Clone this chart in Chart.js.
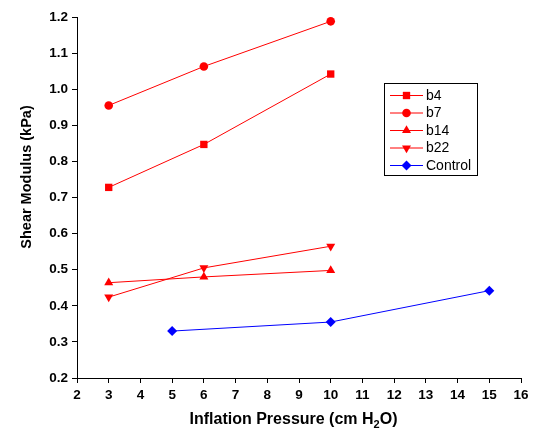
<!DOCTYPE html>
<html>
<head>
<meta charset="utf-8">
<script src="https://cdn.jsdelivr.net/npm/chart.js@4/dist/chart.umd.min.js"></script>
<style>
  html, body { margin: 0; padding: 0; background: #fff; }
  #wrap { width: 541px; height: 429px; }
</style>
</head>
<body>
<div id="wrap"><canvas id="chart" width="541" height="429"></canvas></div>
<script>
const b4x = [3, 6, 10];
const b4y = [0.728, 0.847, 1.042];
const b7x = [3, 6, 10];
const b7y = [0.955, 1.063, 1.188];
const b14x = [3, 6, 10];
const b14y = [0.464, 0.480, 0.498];
const b22x = [3, 6, 10];
const b22y = [0.424, 0.505, 0.565];
const controlX = [5, 10, 15];
const controlY = [0.330, 0.355, 0.442];

const pts = (xs, ys) => xs.map((x, i) => ({ x: x, y: ys[i] }));

const red = '#ff0000';
const blue = '#0000ff';
const font = 'Arial, "Liberation Sans", sans-serif';

const series = [
  { label: 'b4', data: pts(b4x, b4y), color: red, style: 'rect', radius: 5.2, rot: 0 },
  { label: 'b7', data: pts(b7x, b7y), color: red, style: 'circle', radius: 4.3, rot: 0 },
  { label: 'b14', data: pts(b14x, b14y), color: red, style: 'triangle', radius: 5.2, rot: 0 },
  { label: 'b22', data: pts(b22x, b22y), color: red, style: 'triangle', radius: 5.2, rot: 180 },
  { label: 'Control', data: pts(controlX, controlY), color: blue, style: 'rectRot', radius: 5, rot: 0 },
];

// legend box + axis titles (with a real subscript) drawn on the canvas
const extras = {
  id: 'extras',
  afterDraw(chart) {
    const ctx = chart.ctx;
    const left = 384, top = 83, w = 93, h = 92;
    ctx.save();
    ctx.strokeStyle = '#000';
    ctx.lineWidth = 1;
    ctx.strokeRect(left + 0.5, top + 0.5, w, h);
    ctx.font = '14px ' + font;
    ctx.textBaseline = 'middle';
    chart.data.datasets.forEach((ds, i) => {
      const y = top + 12 + i * 17.5;
      ctx.strokeStyle = ds.borderColor;
      ctx.beginPath();
      ctx.moveTo(390, y + 0.5);
      ctx.lineTo(423, y + 0.5);
      ctx.stroke();
      ctx.fillStyle = ds.pointBackgroundColor;
      Chart.helpers.drawPoint(ctx, {
        pointStyle: ds.pointStyle,
        radius: ds.pointRadius,
        rotation: ds.pointRotation,
        borderWidth: 0
      }, 406.5, y + 0.5);
      ctx.fillStyle = '#000';
      ctx.fillText(ds.label, 426, y + 1);
    });

    // y title
    ctx.fillStyle = '#000';
    ctx.font = 'bold 14.5px ' + font;
    ctx.textAlign = 'center';
    ctx.translate(27, 177);
    ctx.rotate(-Math.PI / 2);
    ctx.fillText('Shear Modulus (kPa)', 0, 0);
    ctx.setTransform(1, 0, 0, 1, 0, 0);

    // x title
    const big = 'bold 16px ' + font, small = 'bold 11px ' + font;
    const parts = [['Inflation Pressure (cm H', big, 0], ['2', small, 4], ['O)', big, 0]];
    let total = 0;
    parts.forEach(p => { ctx.font = p[1]; total += ctx.measureText(p[0]).width; });
    let x = 293.5 - total / 2;
    ctx.textAlign = 'left';
    ctx.textBaseline = 'alphabetic';
    parts.forEach(p => {
      ctx.font = p[1];
      ctx.fillText(p[0], x, 424 + p[2]);
      x += ctx.measureText(p[0]).width;
    });
    ctx.restore();
  }
};

new Chart(document.getElementById('chart'), {
  type: 'scatter',
  data: {
    datasets: series.map(s => ({
      label: s.label,
      data: s.data,
      showLine: true,
      borderColor: s.color,
      borderWidth: 1,
      backgroundColor: s.color,
      pointBackgroundColor: s.color,
      pointBorderColor: s.color,
      pointBorderWidth: 0,
      pointStyle: s.style,
      pointRadius: s.radius,
      pointHoverRadius: s.radius,
      pointRotation: s.rot,
    }))
  },
  options: {
    responsive: false,
    animation: false,
    layout: { padding: { left: 0, top: 17, right: 20, bottom: 0 } },
    plugins: {
      legend: { display: false },
      tooltip: { enabled: false }
    },
    scales: {
      x: {
        type: 'linear',
        min: 2,
        max: 16,
        afterFit(scale) { scale.height = 51; },
        ticks: {
          stepSize: 1,
          color: '#000',
          padding: 4,
          font: { family: font, size: 13.5, weight: 'bold' }
        },
        grid: { drawOnChartArea: false, tickLength: 5, color: '#000' },
        border: { color: '#000', width: 1 }
      },
      y: {
        min: 0.2,
        max: 1.2,
        afterFit(scale) { scale.width = 77; },
        ticks: {
          stepSize: 0.1,
          color: '#000',
          padding: 4,
          callback: v => v.toFixed(1),
          font: { family: font, size: 13.5, weight: 'bold' }
        },
        grid: { drawOnChartArea: false, tickLength: 5, color: '#000' },
        border: { color: '#000', width: 1 }
      }
    }
  },
  plugins: [extras]
});
</script>
</body>
</html>
